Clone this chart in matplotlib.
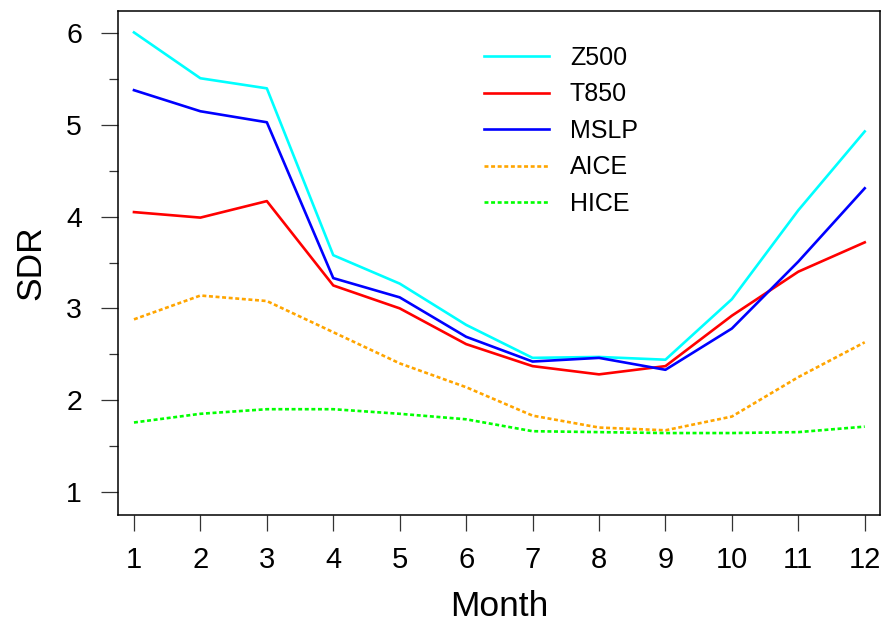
import matplotlib
matplotlib.use("Agg")
import matplotlib.pyplot as plt
import numpy as np

months = list(range(1, 13))
z500 = [6.01, 5.51, 5.40, 3.58, 3.27, 2.82, 2.46, 2.47, 2.44, 3.10, 4.07, 4.93]
t850 = [4.05, 3.99, 4.17, 3.25, 3.00, 2.61, 2.37, 2.28, 2.37, 2.92, 3.40, 3.72]
mslp = [5.38, 5.15, 5.03, 3.33, 3.12, 2.69, 2.42, 2.46, 2.33, 2.78, 3.51, 4.31]
aice = [2.88, 3.14, 3.08, 2.74, 2.40, 2.14, 1.83, 1.70, 1.67, 1.82, 2.25, 2.63]
hice = [1.755, 1.85, 1.90, 1.90, 1.85, 1.79, 1.66, 1.65, 1.64, 1.64, 1.65, 1.71]

series = [
    ("Z500", z500, "#00FFFF", "-"),
    ("T850", t850, "#FF0000", "-"),
    ("MSLP", mslp, "#0000FF", "-"),
    ("AICE", aice, "#FFA500", "--"),
    ("HICE", hice, "#00FF00", "--"),
]

plt.rcParams['font.family'] = ['Liberation Sans', 'DejaVu Sans']

W, H = 884, 622
fig = plt.figure(figsize=(W / 100, H / 100), dpi=100)
ax = fig.add_axes([117.7 / W, 1 - 515 / H, (880 - 117.7) / W, (515 - 10.7) / H])

for name, vals, col, ls in series:
    if ls == "--":
        ax.plot(months, vals, color=col, lw=1.9, dashes=(1.5, 1.0), label=name)
    else:
        ax.plot(months, vals, color=col, lw=1.9, label=name)

ax.set_xlim(0.755, 12.23)
ax.set_ylim(0.746, 6.247)

ax.set_xticks(months)
ax.set_xticklabels([str(m) for m in months])
ax.set_yticks([1, 2, 3, 4, 5, 6])
ax.set_yticks(np.arange(1.5, 6.0, 1.0), minor=True)

ax.tick_params(axis='x', which='major', length=11.5, width=0.9, pad=11, labelsize=21, color='#333333')
ax.tick_params(axis='y', which='major', length=12.2, width=0.9, pad=13.5, labelsize=20.5, color='#333333')
ax.tick_params(axis='y', which='minor', length=6.5, width=0.9, color='#333333')

for sp in ax.spines.values():
    sp.set_linewidth(1.1)
    sp.set_color('black')

ax.set_xlabel("Month", fontsize=25.5)
ax.set_ylabel("SDR", fontsize=25.5)
ax.xaxis.set_label_coords(0.5, -0.149)
ax.yaxis.set_label_coords(-0.0927, 0.5)

leg = ax.legend(loc='upper left', bbox_to_anchor=(0.467, 0.95), frameon=False,
                fontsize=18, handlelength=2.6, handletextpad=0.85, labelspacing=0.5,
                borderaxespad=0)

fig.savefig("out.png", dpi=100)
